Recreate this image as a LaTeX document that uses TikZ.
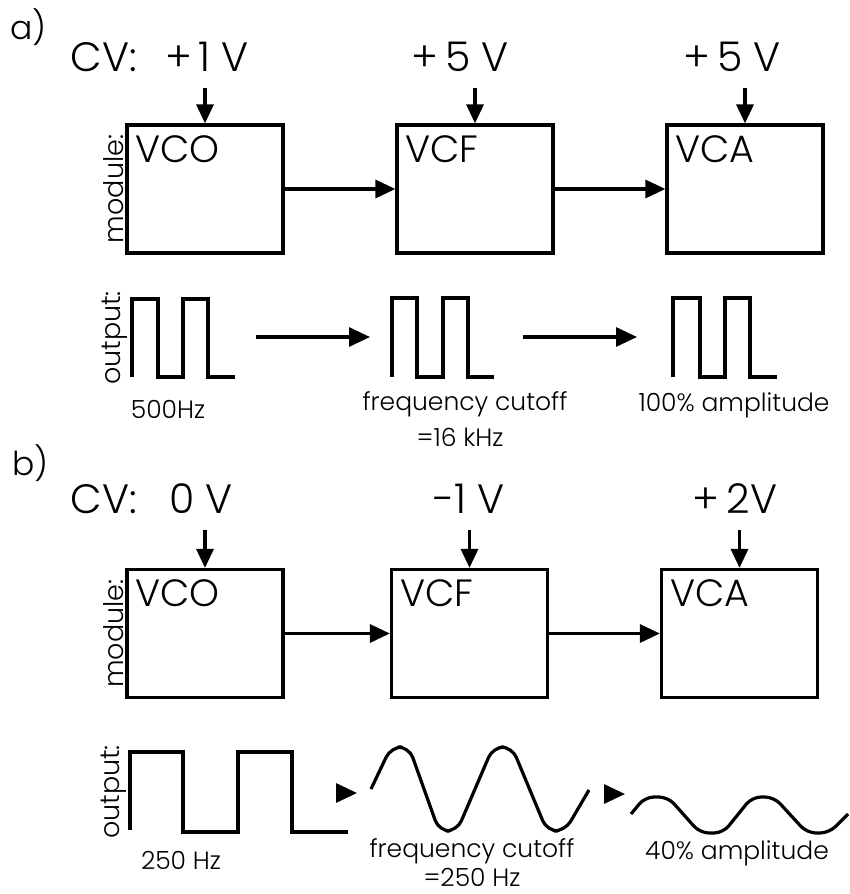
\documentclass[tikz,border=0pt]{standalone}
\usepackage{fontspec}
\setmainfont{Poppins}[UprightFont=* Light]
\usetikzlibrary{arrows.meta}

\tikzset{
  module/.style={draw, line width=3.2pt, minimum width=156pt, minimum height=128pt, inner sep=0pt},
  modname/.style={anchor=north west, inner sep=0pt, font=\fontsize{38}{38}\selectfont, xshift=10pt, yshift=-12pt},
  sig/.style={line width=3.2pt},
  flow/.style={line width=3.2pt, -{Triangle[length=20pt,width=18pt]}},
  cvin/.style={line width=3.2pt, -{Triangle[length=19pt,width=17pt]}, shorten <=17pt},
  tiphead/.style={line width=3.2pt, -{Triangle[length=21pt,width=19pt]}},
  cvlabel/.style={anchor=base, inner sep=0pt, font=\fontsize{41}{41}\selectfont},
  side/.style={rotate=90, anchor=south, inner sep=1pt, font=\fontsize{27}{27}\selectfont},
  note/.style={anchor=base, inner sep=0pt, font=\fontsize{25}{25}\selectfont},
  part/.style={anchor=north west, inner sep=0pt, font=\fontsize{33}{33}\selectfont},
}

\begin{document}
\begin{tikzpicture}[x=1pt, y=-1pt]
  \useasboundingbox (0,0) rectangle (850,894);
  % a)
  \node[part] (pa) at (10,8) {a)};
  \node[cvlabel] (cva) at (104,71) {CV:};
  \node[cvlabel] (cv1) at (207,71) {+\,1 V};
  \node[cvlabel] (cv2) at (460,71) {+\,5 V};
  \node[cvlabel] (cv3) at (732,71) {+\,5 V};
  \node[module, label={[modname]north west:VCO}] (vco) at (205,189) {};
  \node[module, label={[modname]north west:VCF}] (vcf) at (475,189) {};
  \node[module, label={[modname]north west:VCA}] (vca) at (745,189) {};
  \node[side] (moda) at (vco.west) {module:};
  \draw[cvin] (cv1.south -| vco.north) -- (vco.north);
  \draw[cvin] (cv2.south -| vcf.north) -- (vcf.north);
  \draw[cvin] (cv3.south -| vca.north) -- (vca.north);
  \draw[flow] (vco) -- (vcf);
  \draw[flow] (vcf) -- (vca);
  \node[side] (outa) at (129,338) {output:};
  \draw[sig] (132,377) -- (132,299) -- (158,299) -- (158,377) -- (183,377) -- (183,299) -- (208,299) -- (208,377) -- (235,377);
  \draw[sig] (392,377) -- (392,298) -- (417,298) -- (417,377) -- (443,377) -- (443,298) -- (468,298) -- (468,377) -- (494,377);
  \draw[sig] (673,377) -- (673,298) -- (700,298) -- (700,377) -- (725,377) -- (725,298) -- (750,298) -- (750,377) -- (777,377);
  \coordinate (a1s) at (256,337);
  \coordinate (a1e) at (370,337);
  \coordinate (a2s) at (523,337);
  \coordinate (a2e) at (637,337);
  \draw[flow, -{Triangle[length=21pt,width=19pt]}] (a1s) -- (a1e);
  \draw[flow, -{Triangle[length=21pt,width=19pt]}] (a2s) -- (a2e);
  \node[note] (fa1) at (168,418) {500Hz};
  \node[note] (fa2) at (465,410) {frequency cutoff};
  \node[note] (fa3) at (460,446) {=16 kHz};
  \node[note] (fa4) at (734,411) {100\% amplitude};
  % b)
  \node[part] (pb) at (12,444) {b)};
  \node[cvlabel] (cvb) at (104,513) {CV:};
  \node[cvlabel] (cv4) at (201,513) {0 V};
  \node[cvlabel] (cv5) at (469,513) {-1 V};
  \node[cvlabel] (cv6) at (735,513) {+\,2V};
  \node[module, label={[modname]north west:VCO}] (vcob) at (205,633.5) {};
  \node[module, label={[modname]north west:VCF}] (vcfb) at (469.5,633.5) {};
  \node[module, label={[modname]north west:VCA}] (vcab) at (739.5,633.5) {};
  \node[side] (modb) at (vcob.west) {module:};
  \draw[cvin] (cv4.south -| vcob.north) -- (vcob.north);
  \draw[cvin] (cv5.south -| vcfb.north) -- (vcfb.north);
  \draw[cvin] (cv6.south -| vcab.north) -- (vcab.north);
  \draw[flow] (vcob) -- (vcfb);
  \draw[flow] (vcfb) -- (vcab);
  \node[side] (outb) at (128,792) {output:};
  \draw[sig] (130,830) -- (130,752) -- (183,752) -- (183,832) -- (238,832) -- (238,752) -- (292,752) -- (292,832) -- (348,832);
  \draw[sig, rounded corners=11pt] (371,789) -- (391,747) -- (409,747) -- (439,831) -- (457,831) -- (493,747) -- (512,747) -- (547,831) -- (565,831) -- (589,790);
  \draw[sig, rounded corners=9pt] (631,814) -- (645,797) -- (668,797) -- (700,833) -- (723,833) -- (752,797) -- (774,797) -- (807,833) -- (829,833) -- (848,814);
  \coordinate (h1s) at (336,793);
  \coordinate (h1e) at (357,793);
  \coordinate (h2s) at (604,794);
  \coordinate (h2e) at (625,794);
  \draw[tiphead] (h1s) -- (h1e);
  \draw[tiphead] (h2s) -- (h2e);
  \node[note] (fb1) at (181,869) {250 Hz};
  \node[note] (fb2) at (472,857) {frequency cutoff};
  \node[note] (fb3) at (472,886) {=250 Hz};
  \node[note] (fb4) at (737,859) {40\% amplitude};
\end{tikzpicture}
\end{document}
